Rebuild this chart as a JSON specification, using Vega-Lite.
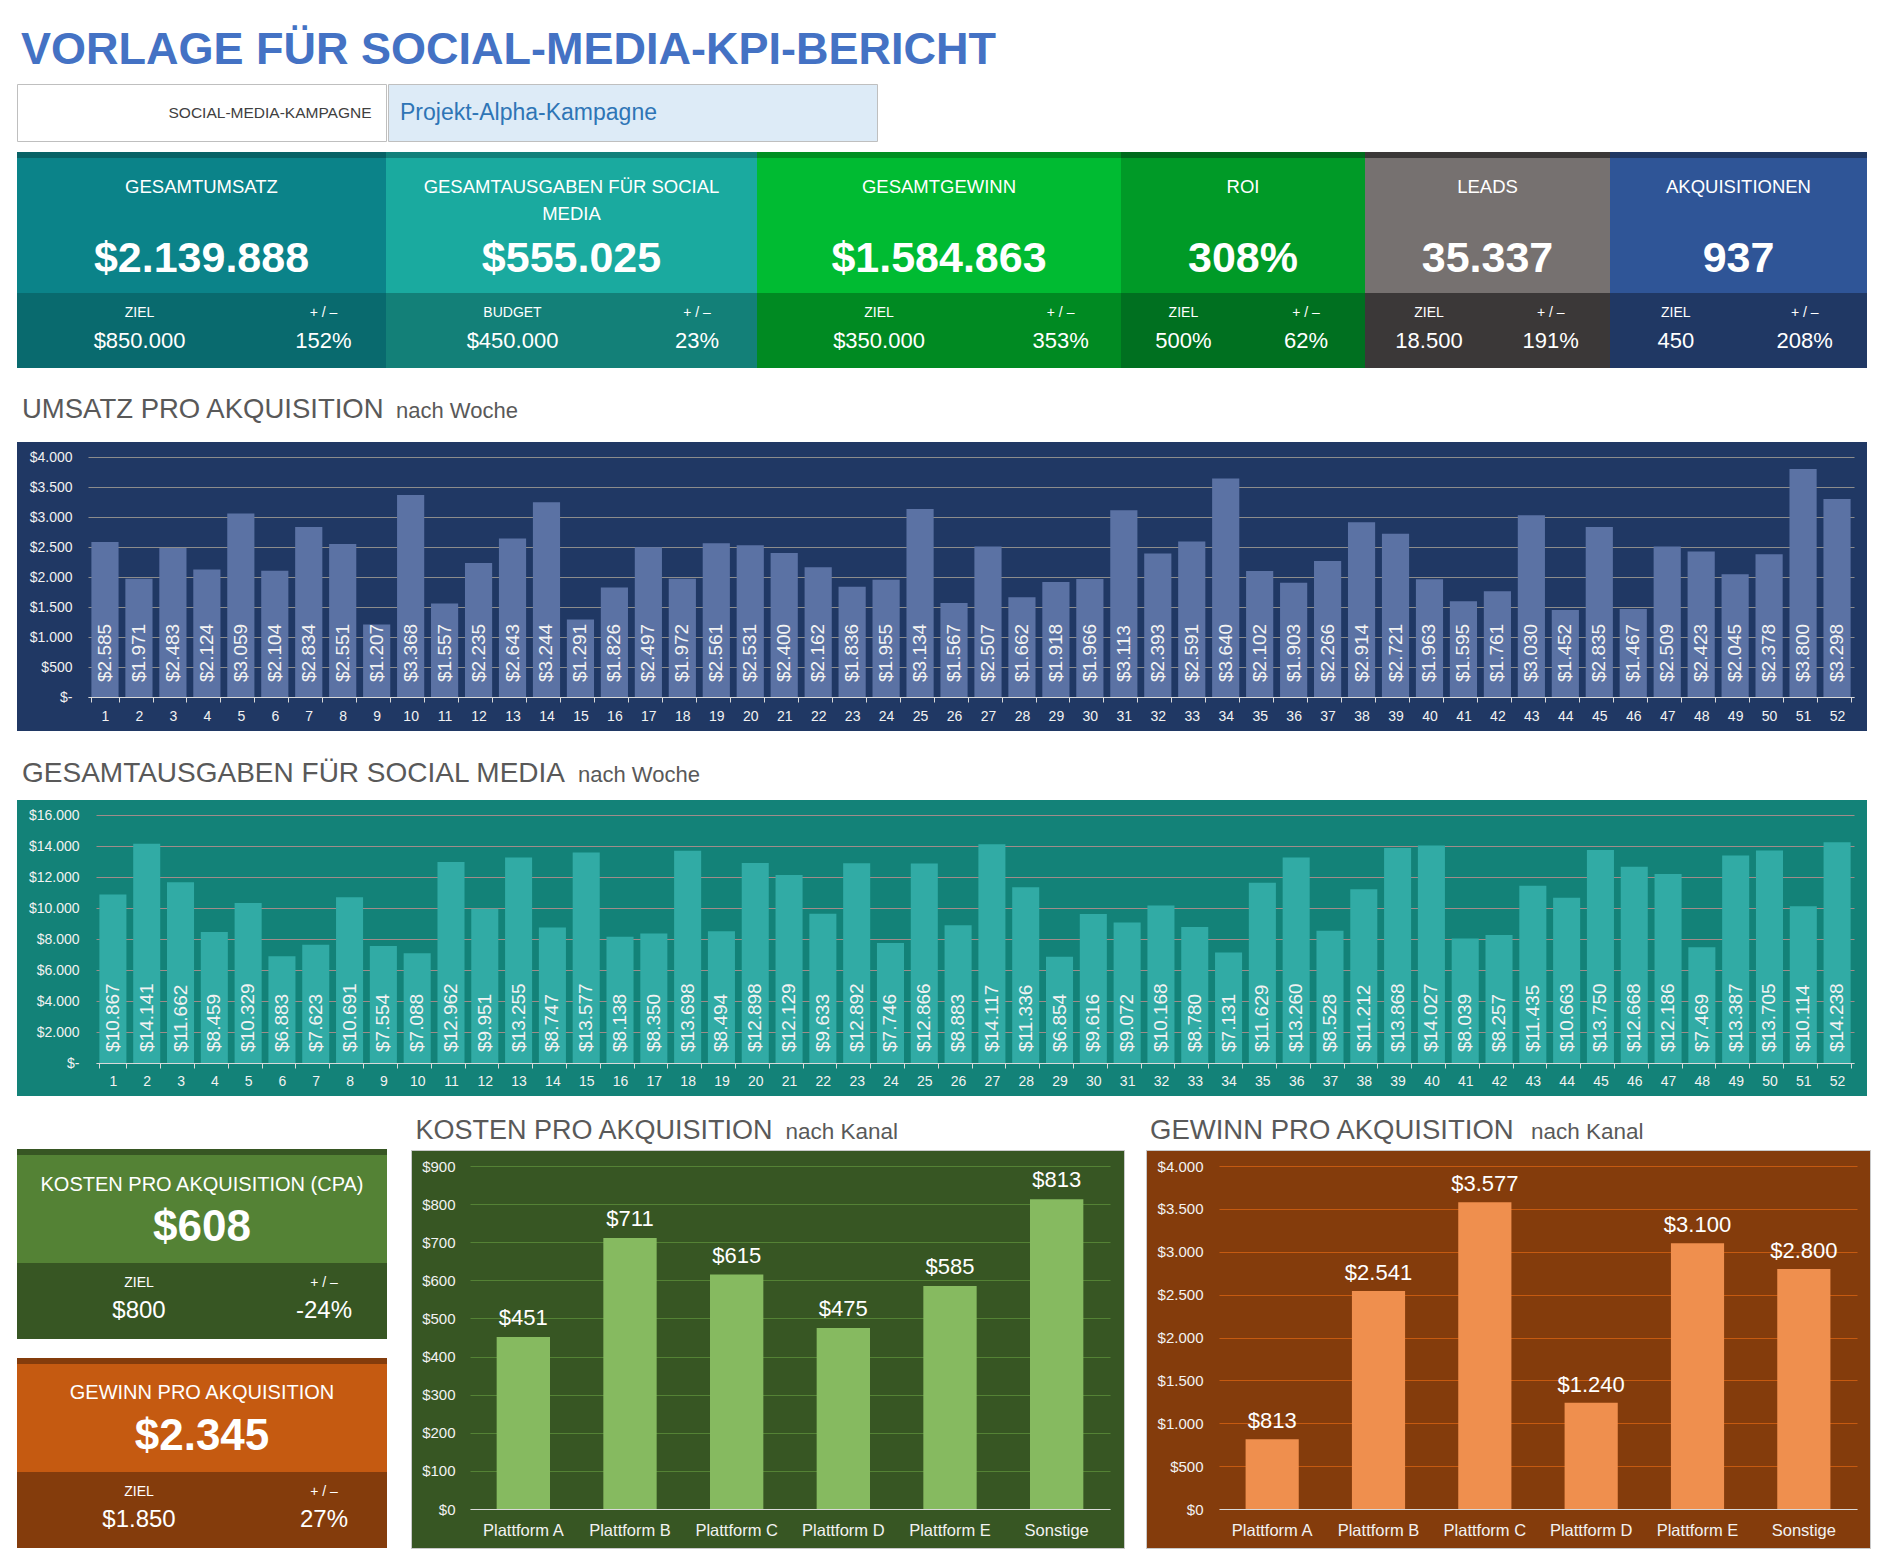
{
"$schema": "https://vega.github.io/schema/vega-lite/v6.json",
"background": "#FFFFFF",
"padding": {"left": 16, "top": 0, "right": 22, "bottom": 11},
"config": {
  "view": {"stroke": null},
  "font": "Liberation Sans",
  "text": {"color": "#FFFFFF"},
  "locale": {"number": {"decimal": ",", "thousands": ".", "grouping": [3], "currency": ["$", ""], "minus": "-"}}
},
"datasets": {
  "weekly": [
    {"woche":1,"umsatz":2585,"ausgaben":10867},{"woche":2,"umsatz":1971,"ausgaben":14141},{"woche":3,"umsatz":2483,"ausgaben":11662},{"woche":4,"umsatz":2124,"ausgaben":8459},
    {"woche":5,"umsatz":3059,"ausgaben":10329},{"woche":6,"umsatz":2104,"ausgaben":6883},{"woche":7,"umsatz":2834,"ausgaben":7623},{"woche":8,"umsatz":2551,"ausgaben":10691},
    {"woche":9,"umsatz":1207,"ausgaben":7554},{"woche":10,"umsatz":3368,"ausgaben":7088},{"woche":11,"umsatz":1557,"ausgaben":12962},{"woche":12,"umsatz":2235,"ausgaben":9951},
    {"woche":13,"umsatz":2643,"ausgaben":13255},{"woche":14,"umsatz":3244,"ausgaben":8747},{"woche":15,"umsatz":1291,"ausgaben":13577},{"woche":16,"umsatz":1826,"ausgaben":8138},
    {"woche":17,"umsatz":2497,"ausgaben":8350},{"woche":18,"umsatz":1972,"ausgaben":13698},{"woche":19,"umsatz":2561,"ausgaben":8494},{"woche":20,"umsatz":2531,"ausgaben":12898},
    {"woche":21,"umsatz":2400,"ausgaben":12129},{"woche":22,"umsatz":2162,"ausgaben":9633},{"woche":23,"umsatz":1836,"ausgaben":12892},{"woche":24,"umsatz":1955,"ausgaben":7746},
    {"woche":25,"umsatz":3134,"ausgaben":12866},{"woche":26,"umsatz":1567,"ausgaben":8883},{"woche":27,"umsatz":2507,"ausgaben":14117},{"woche":28,"umsatz":1662,"ausgaben":11336},
    {"woche":29,"umsatz":1918,"ausgaben":6854},{"woche":30,"umsatz":1966,"ausgaben":9616},{"woche":31,"umsatz":3113,"ausgaben":9072},{"woche":32,"umsatz":2393,"ausgaben":10168},
    {"woche":33,"umsatz":2591,"ausgaben":8780},{"woche":34,"umsatz":3640,"ausgaben":7131},{"woche":35,"umsatz":2102,"ausgaben":11629},{"woche":36,"umsatz":1903,"ausgaben":13260},
    {"woche":37,"umsatz":2266,"ausgaben":8528},{"woche":38,"umsatz":2914,"ausgaben":11212},{"woche":39,"umsatz":2721,"ausgaben":13868},{"woche":40,"umsatz":1963,"ausgaben":14027},
    {"woche":41,"umsatz":1595,"ausgaben":8039},{"woche":42,"umsatz":1761,"ausgaben":8257},{"woche":43,"umsatz":3030,"ausgaben":11435},{"woche":44,"umsatz":1452,"ausgaben":10663},
    {"woche":45,"umsatz":2835,"ausgaben":13750},{"woche":46,"umsatz":1467,"ausgaben":12668},{"woche":47,"umsatz":2509,"ausgaben":12186},{"woche":48,"umsatz":2423,"ausgaben":7469},
    {"woche":49,"umsatz":2045,"ausgaben":13387},{"woche":50,"umsatz":2378,"ausgaben":13705},{"woche":51,"umsatz":3800,"ausgaben":10114},{"woche":52,"umsatz":3298,"ausgaben":14238}
  ],
  "kanal": [
    {"kanal":"Plattform A","kosten":451,"gewinn":813},
    {"kanal":"Plattform B","kosten":711,"gewinn":2541},
    {"kanal":"Plattform C","kosten":615,"gewinn":3577},
    {"kanal":"Plattform D","kosten":475,"gewinn":1240},
    {"kanal":"Plattform E","kosten":585,"gewinn":3100},
    {"kanal":"Sonstige","kosten":813,"gewinn":2800}
  ],
  "leer": []
},
"spacing": 10,
"vconcat": [
  {
    "spacing": 0,
    "vconcat": [
      {"width": 1850, "height": 83,
       "data": {"values": [{"t": "VORLAGE FÜR SOCIAL-MEDIA-KPI-BERICHT"}]},
       "mark": {"type": "text", "align": "left", "baseline": "alphabetic", "dx": -921, "dy": 22.5, "fontSize": 45, "fontWeight": "bold", "color": "#4472C4"},
       "encoding": {"text": {"field": "t"}}},
      {"spacing": 0,
       "hconcat": [
         {"width": 369, "height": 57, "view": {"fill": "#FFFFFF", "stroke": "#BFBFBF"},
          "data": {"values": [{"t": "SOCIAL-MEDIA-KAMPAGNE"}]},
          "mark": {"type": "text", "align": "right", "baseline": "middle", "dx": 170, "fontSize": 15.5, "color": "#404040"},
          "encoding": {"text": {"field": "t"}}},
         {"width": 489, "height": 57, "view": {"fill": "#DDEBF7", "stroke": "#BFBFBF"},
          "data": {"values": [{"t": "Projekt-Alpha-Kampagne"}]},
          "mark": {"type": "text", "align": "left", "baseline": "middle", "dx": -232.5, "fontSize": 23, "color": "#2E75B6"},
          "encoding": {"text": {"field": "t"}}}
       ]}
    ]
  },
  {
    "spacing": 0,
    "hconcat": [
      {"spacing": 0, "vconcat": [
        {"width": 369, "height": 6, "view": {"fill": "#086266"}, "data": {"name": "leer"}, "mark": "text", "encoding": {"text": {"field": "t", "type": "nominal"}}},
        {"width": 369, "height": 135, "view": {"fill": "#0B8389"}, "data": {"values": [{"label": "GESAMTUMSATZ", "wert": 2139888}]}, "layer": [
          {"mark": {"type": "text", "baseline": "alphabetic", "dy": -32.8, "fontSize": 18.5, "lineBreak": "\n", "lineHeight": 27}, "encoding": {"text": {"field": "label"}}},
          {"mark": {"type": "text", "baseline": "alphabetic", "dy": 46.2, "fontSize": 43, "fontWeight": "bold"}, "encoding": {"text": {"field": "wert", "type": "quantitative", "format": "$,.0f"}}}]},
        {"width": 369, "height": 75, "view": {"fill": "#096A6E"}, "data": {"values": [{"h1": "ZIEL", "v1": 850000, "h2": "+ / –", "v2": 1.52}]}, "layer": [
          {"mark": {"type": "text", "baseline": "alphabetic", "dx": -62, "dy": -13.8, "fontSize": 14}, "encoding": {"text": {"field": "h1"}}},
          {"mark": {"type": "text", "baseline": "alphabetic", "dx": -62, "dy": 17.8, "fontSize": 22}, "encoding": {"text": {"field": "v1", "type": "quantitative", "format": "$,.0f"}}},
          {"mark": {"type": "text", "baseline": "alphabetic", "dx": 122, "dy": -13.8, "fontSize": 14}, "encoding": {"text": {"field": "h2"}}},
          {"mark": {"type": "text", "baseline": "alphabetic", "dx": 122, "dy": 17.8, "fontSize": 22}, "encoding": {"text": {"field": "v2", "type": "quantitative", "format": ".0%"}}}]}
      ]},
      {"spacing": 0, "vconcat": [
        {"width": 371, "height": 6, "view": {"fill": "#12807A"}, "data": {"name": "leer"}, "mark": "text", "encoding": {"text": {"field": "t", "type": "nominal"}}},
        {"width": 371, "height": 135, "view": {"fill": "#1AAA9F"}, "data": {"values": [{"label": "GESAMTAUSGABEN FÜR SOCIAL\nMEDIA", "wert": 555025}]}, "layer": [
          {"mark": {"type": "text", "baseline": "alphabetic", "dy": -32.8, "fontSize": 18.5, "lineBreak": "\n", "lineHeight": 27}, "encoding": {"text": {"field": "label"}}},
          {"mark": {"type": "text", "baseline": "alphabetic", "dy": 46.2, "fontSize": 43, "fontWeight": "bold"}, "encoding": {"text": {"field": "wert", "type": "quantitative", "format": "$,.0f"}}}]},
        {"width": 371, "height": 75, "view": {"fill": "#138078"}, "data": {"values": [{"h1": "BUDGET", "v1": 450000, "h2": "+ / –", "v2": 0.23}]}, "layer": [
          {"mark": {"type": "text", "baseline": "alphabetic", "dx": -59, "dy": -13.8, "fontSize": 14}, "encoding": {"text": {"field": "h1"}}},
          {"mark": {"type": "text", "baseline": "alphabetic", "dx": -59, "dy": 17.8, "fontSize": 22}, "encoding": {"text": {"field": "v1", "type": "quantitative", "format": "$,.0f"}}},
          {"mark": {"type": "text", "baseline": "alphabetic", "dx": 125.5, "dy": -13.8, "fontSize": 14}, "encoding": {"text": {"field": "h2"}}},
          {"mark": {"type": "text", "baseline": "alphabetic", "dx": 125.5, "dy": 17.8, "fontSize": 22}, "encoding": {"text": {"field": "v2", "type": "quantitative", "format": ".0%"}}}]}
      ]},
      {"spacing": 0, "vconcat": [
        {"width": 364, "height": 6, "view": {"fill": "#008F22"}, "data": {"name": "leer"}, "mark": "text", "encoding": {"text": {"field": "t", "type": "nominal"}}},
        {"width": 364, "height": 135, "view": {"fill": "#00BB32"}, "data": {"values": [{"label": "GESAMTGEWINN", "wert": 1584863}]}, "layer": [
          {"mark": {"type": "text", "baseline": "alphabetic", "dy": -32.8, "fontSize": 18.5, "lineBreak": "\n", "lineHeight": 27}, "encoding": {"text": {"field": "label"}}},
          {"mark": {"type": "text", "baseline": "alphabetic", "dy": 46.2, "fontSize": 43, "fontWeight": "bold"}, "encoding": {"text": {"field": "wert", "type": "quantitative", "format": "$,.0f"}}}]},
        {"width": 364, "height": 75, "view": {"fill": "#008A22"}, "data": {"values": [{"h1": "ZIEL", "v1": 350000, "h2": "+ / –", "v2": 3.53}]}, "layer": [
          {"mark": {"type": "text", "baseline": "alphabetic", "dx": -60, "dy": -13.8, "fontSize": 14}, "encoding": {"text": {"field": "h1"}}},
          {"mark": {"type": "text", "baseline": "alphabetic", "dx": -60, "dy": 17.8, "fontSize": 22}, "encoding": {"text": {"field": "v1", "type": "quantitative", "format": "$,.0f"}}},
          {"mark": {"type": "text", "baseline": "alphabetic", "dx": 121.6, "dy": -13.8, "fontSize": 14}, "encoding": {"text": {"field": "h2"}}},
          {"mark": {"type": "text", "baseline": "alphabetic", "dx": 121.6, "dy": 17.8, "fontSize": 22}, "encoding": {"text": {"field": "v2", "type": "quantitative", "format": ".0%"}}}]}
      ]},
      {"spacing": 0, "vconcat": [
        {"width": 244, "height": 6, "view": {"fill": "#006A1C"}, "data": {"name": "leer"}, "mark": "text", "encoding": {"text": {"field": "t", "type": "nominal"}}},
        {"width": 244, "height": 135, "view": {"fill": "#009A27"}, "data": {"values": [{"label": "ROI", "wert": 3.08}]}, "layer": [
          {"mark": {"type": "text", "baseline": "alphabetic", "dy": -32.8, "fontSize": 18.5, "lineBreak": "\n", "lineHeight": 27}, "encoding": {"text": {"field": "label"}}},
          {"mark": {"type": "text", "baseline": "alphabetic", "dy": 46.2, "fontSize": 43, "fontWeight": "bold"}, "encoding": {"text": {"field": "wert", "type": "quantitative", "format": ".0%"}}}]},
        {"width": 244, "height": 75, "view": {"fill": "#007020"}, "data": {"values": [{"h1": "ZIEL", "v1": 5.0, "h2": "+ / –", "v2": 0.62}]}, "layer": [
          {"mark": {"type": "text", "baseline": "alphabetic", "dx": -59.6, "dy": -13.8, "fontSize": 14}, "encoding": {"text": {"field": "h1"}}},
          {"mark": {"type": "text", "baseline": "alphabetic", "dx": -59.6, "dy": 17.8, "fontSize": 22}, "encoding": {"text": {"field": "v1", "type": "quantitative", "format": ".0%"}}},
          {"mark": {"type": "text", "baseline": "alphabetic", "dx": 63, "dy": -13.8, "fontSize": 14}, "encoding": {"text": {"field": "h2"}}},
          {"mark": {"type": "text", "baseline": "alphabetic", "dx": 63, "dy": 17.8, "fontSize": 22}, "encoding": {"text": {"field": "v2", "type": "quantitative", "format": ".0%"}}}]}
      ]},
      {"spacing": 0, "vconcat": [
        {"width": 245, "height": 6, "view": {"fill": "#3B3838"}, "data": {"name": "leer"}, "mark": "text", "encoding": {"text": {"field": "t", "type": "nominal"}}},
        {"width": 245, "height": 135, "view": {"fill": "#767170"}, "data": {"values": [{"label": "LEADS", "wert": 35337}]}, "layer": [
          {"mark": {"type": "text", "baseline": "alphabetic", "dy": -32.8, "fontSize": 18.5, "lineBreak": "\n", "lineHeight": 27}, "encoding": {"text": {"field": "label"}}},
          {"mark": {"type": "text", "baseline": "alphabetic", "dy": 46.2, "fontSize": 43, "fontWeight": "bold"}, "encoding": {"text": {"field": "wert", "type": "quantitative", "format": ",.0f"}}}]},
        {"width": 245, "height": 75, "view": {"fill": "#3B3838"}, "data": {"values": [{"h1": "ZIEL", "v1": 18500, "h2": "+ / –", "v2": 1.91}]}, "layer": [
          {"mark": {"type": "text", "baseline": "alphabetic", "dx": -58.5, "dy": -13.8, "fontSize": 14}, "encoding": {"text": {"field": "h1"}}},
          {"mark": {"type": "text", "baseline": "alphabetic", "dx": -58.5, "dy": 17.8, "fontSize": 22}, "encoding": {"text": {"field": "v1", "type": "quantitative", "format": ",.0f"}}},
          {"mark": {"type": "text", "baseline": "alphabetic", "dx": 63.2, "dy": -13.8, "fontSize": 14}, "encoding": {"text": {"field": "h2"}}},
          {"mark": {"type": "text", "baseline": "alphabetic", "dx": 63.2, "dy": 17.8, "fontSize": 22}, "encoding": {"text": {"field": "v2", "type": "quantitative", "format": ".0%"}}}]}
      ]},
      {"spacing": 0, "vconcat": [
        {"width": 257, "height": 6, "view": {"fill": "#203864"}, "data": {"name": "leer"}, "mark": "text", "encoding": {"text": {"field": "t", "type": "nominal"}}},
        {"width": 257, "height": 135, "view": {"fill": "#2F5597"}, "data": {"values": [{"label": "AKQUISITIONEN", "wert": 937}]}, "layer": [
          {"mark": {"type": "text", "baseline": "alphabetic", "dy": -32.8, "fontSize": 18.5, "lineBreak": "\n", "lineHeight": 27}, "encoding": {"text": {"field": "label"}}},
          {"mark": {"type": "text", "baseline": "alphabetic", "dy": 46.2, "fontSize": 43, "fontWeight": "bold"}, "encoding": {"text": {"field": "wert", "type": "quantitative", "format": ",.0f"}}}]},
        {"width": 257, "height": 75, "view": {"fill": "#203864"}, "data": {"values": [{"h1": "ZIEL", "v1": 450, "h2": "+ / –", "v2": 2.08}]}, "layer": [
          {"mark": {"type": "text", "baseline": "alphabetic", "dx": -62.7, "dy": -13.8, "fontSize": 14}, "encoding": {"text": {"field": "h1"}}},
          {"mark": {"type": "text", "baseline": "alphabetic", "dx": -62.7, "dy": 17.8, "fontSize": 22}, "encoding": {"text": {"field": "v1", "type": "quantitative", "format": ",.0f"}}},
          {"mark": {"type": "text", "baseline": "alphabetic", "dx": 66.2, "dy": -13.8, "fontSize": 14}, "encoding": {"text": {"field": "h2"}}},
          {"mark": {"type": "text", "baseline": "alphabetic", "dx": 66.2, "dy": 17.8, "fontSize": 22}, "encoding": {"text": {"field": "v2", "type": "quantitative", "format": ".0%"}}}]}
      ]}
    ]
  },
  {
    "spacing": 0,
    "vconcat": [
      {"width": 1850, "height": 64, "data": {"values": [{"a": "UMSATZ PRO AKQUISITION", "b": "nach Woche"}]}, "layer": [
        {"mark": {"type": "text", "align": "left", "baseline": "alphabetic", "dx": -920, "dy": 8, "fontSize": 27.5, "color": "#595959"}, "encoding": {"text": {"field": "a"}}},
        {"mark": {"type": "text", "align": "left", "baseline": "alphabetic", "dx": -546, "dy": 8, "fontSize": 22, "color": "#595959"}, "encoding": {"text": {"field": "b"}}}]},
      {"width": 1850, "height": 289, "view": {"fill": "#203864"},
       "data": {"name": "weekly"},
       "encoding": {
         "x": {"field": "woche", "type": "ordinal", "scale": {"range": [71, 1837], "paddingInner": 0.2, "paddingOuter": 0.1},
               "axis": {"title": null, "orient": "bottom", "offset": -34, "labelAngle": 0, "domainColor": "#D9D9D9", "tickColor": "#D9D9D9", "tickSize": 5, "tickBand": "extent", "labelColor": "#F2F2F2", "labelFontSize": 14, "labelPadding": 7, "labelOverlap": false, "grid": false}}
       },
       "layer": [
         {"mark": {"type": "bar", "color": "#5B72A4"},
          "encoding": {"y": {"field": "umsatz", "type": "quantitative", "scale": {"domain": [0, 4000], "range": [255, 15], "nice": false},
               "axis": {"title": null, "offset": -71, "domain": false, "ticks": false, "tickSize": 0, "labelPadding": 16, "values": [0,500,1000,1500,2000,2500,3000,3500,4000], "labelOverlap": false, "format": "$,.0f", "labelExpr": "datum.value === 0 ? '$-' : datum.label", "labelColor": "#F2F2F2", "labelFontSize": 14, "grid": true, "gridColor": "#8C8C8C", "gridWidth": 1}}}},
         {"mark": {"type": "text", "angle": 270, "align": "left", "baseline": "middle", "dx": 15, "fontSize": 19, "color": "#F2F2F2"},
          "encoding": {"y": {"datum": 0, "type": "quantitative",
               "axis": {"title": null, "offset": -71, "domain": false, "ticks": false, "tickSize": 0, "labelPadding": 16, "values": [0,500,1000,1500,2000,2500,3000,3500,4000], "labelOverlap": false, "format": "$,.0f", "labelExpr": "datum.value === 0 ? '$-' : datum.label", "labelColor": "#F2F2F2", "labelFontSize": 14, "grid": true, "gridColor": "#8C8C8C", "gridWidth": 1}},
            "text": {"field": "umsatz", "type": "quantitative", "format": "$,.0f"}}}
       ]}
    ]
  },
  {
    "spacing": 0,
    "vconcat": [
      {"width": 1850, "height": 59, "data": {"values": [{"a": "GESAMTAUSGABEN FÜR SOCIAL MEDIA", "b": "nach Woche"}]}, "layer": [
        {"mark": {"type": "text", "align": "left", "baseline": "alphabetic", "dx": -920, "dy": 11.5, "fontSize": 28, "color": "#595959"}, "encoding": {"text": {"field": "a"}}},
        {"mark": {"type": "text", "align": "left", "baseline": "alphabetic", "dx": -364, "dy": 11.5, "fontSize": 22, "color": "#595959"}, "encoding": {"text": {"field": "b"}}}]},
      {"width": 1850, "height": 296, "view": {"fill": "#138278"},
       "data": {"name": "weekly"},
       "encoding": {
         "x": {"field": "woche", "type": "ordinal", "scale": {"range": [79, 1837], "paddingInner": 0.2, "paddingOuter": 0.1},
               "axis": {"title": null, "orient": "bottom", "offset": -33, "labelAngle": 0, "domainColor": "#D9D9D9", "tickColor": "#D9D9D9", "tickSize": 5, "tickBand": "extent", "labelColor": "#F2F2F2", "labelFontSize": 14, "labelPadding": 6, "labelOverlap": false, "grid": false}}
       },
       "layer": [
         {"mark": {"type": "bar", "color": "#31ABA5"},
          "encoding": {"y": {"field": "ausgaben", "type": "quantitative", "scale": {"domain": [0, 16000], "range": [263, 15], "nice": false},
               "axis": {"title": null, "offset": -79, "domain": false, "ticks": false, "tickSize": 0, "labelPadding": 17, "values": [0,2000,4000,6000,8000,10000,12000,14000,16000], "labelOverlap": false, "format": "$,.0f", "labelExpr": "datum.value === 0 ? '$-' : datum.label", "labelColor": "#F2F2F2", "labelFontSize": 14, "grid": true, "gridColor": "#A08C8A", "gridWidth": 1}}}},
         {"mark": {"type": "text", "angle": 270, "align": "left", "baseline": "middle", "dx": 11, "fontSize": 19, "color": "#F2F2F2"},
          "encoding": {"y": {"datum": 0, "type": "quantitative",
               "axis": {"title": null, "offset": -79, "domain": false, "ticks": false, "tickSize": 0, "labelPadding": 17, "values": [0,2000,4000,6000,8000,10000,12000,14000,16000], "labelOverlap": false, "format": "$,.0f", "labelExpr": "datum.value === 0 ? '$-' : datum.label", "labelColor": "#F2F2F2", "labelFontSize": 14, "grid": true, "gridColor": "#A08C8A", "gridWidth": 1}},
            "text": {"field": "ausgaben", "type": "quantitative", "format": "$,.0f"}}}
       ]}
    ]
  },
  {
    "spacing": 23,
    "hconcat": [
      {"spacing": 0, "vconcat": [
        {"width": 370, "height": 43, "data": {"name": "leer"}, "mark": "text", "encoding": {"text": {"field": "t", "type": "nominal"}}},
        {"width": 370, "height": 6, "view": {"fill": "#375623"}, "data": {"name": "leer"}, "mark": "text", "encoding": {"text": {"field": "t", "type": "nominal"}}},
        {"width": 370, "height": 108, "view": {"fill": "#548235"}, "data": {"values": [{"label": "KOSTEN PRO AKQUISITION (CPA)", "wert": 608}]}, "layer": [
          {"mark": {"type": "text", "baseline": "alphabetic", "dy": -18, "fontSize": 20}, "encoding": {"text": {"field": "label"}}},
          {"mark": {"type": "text", "baseline": "alphabetic", "dy": 32, "fontSize": 44, "fontWeight": "bold"}, "encoding": {"text": {"field": "wert", "type": "quantitative", "format": "$,.0f"}}}]},
        {"width": 370, "height": 76, "view": {"fill": "#375623"}, "data": {"values": [{"h1": "ZIEL", "v1": 800, "h2": "+ / –", "v2": -0.24}]}, "layer": [
          {"mark": {"type": "text", "baseline": "alphabetic", "dx": -63, "dy": -14, "fontSize": 14}, "encoding": {"text": {"field": "h1"}}},
          {"mark": {"type": "text", "baseline": "alphabetic", "dx": -63, "dy": 17, "fontSize": 24}, "encoding": {"text": {"field": "v1", "type": "quantitative", "format": "$,.0f"}}},
          {"mark": {"type": "text", "baseline": "alphabetic", "dx": 122, "dy": -14, "fontSize": 14}, "encoding": {"text": {"field": "h2"}}},
          {"mark": {"type": "text", "baseline": "alphabetic", "dx": 122, "dy": 17, "fontSize": 24}, "encoding": {"text": {"field": "v2", "type": "quantitative", "format": ".0%"}}}]},
        {"width": 370, "height": 19, "data": {"name": "leer"}, "mark": "text", "encoding": {"text": {"field": "t", "type": "nominal"}}},
        {"width": 370, "height": 6, "view": {"fill": "#843C0C"}, "data": {"name": "leer"}, "mark": "text", "encoding": {"text": {"field": "t", "type": "nominal"}}},
        {"width": 370, "height": 108, "view": {"fill": "#C55A11"}, "data": {"values": [{"label": "GEWINN PRO AKQUISITION", "wert": 2345}]}, "layer": [
          {"mark": {"type": "text", "baseline": "alphabetic", "dy": -19, "fontSize": 20}, "encoding": {"text": {"field": "label"}}},
          {"mark": {"type": "text", "baseline": "alphabetic", "dy": 32, "fontSize": 44, "fontWeight": "bold"}, "encoding": {"text": {"field": "wert", "type": "quantitative", "format": "$,.0f"}}}]},
        {"width": 370, "height": 76, "view": {"fill": "#843C0C"}, "data": {"values": [{"h1": "ZIEL", "v1": 1850, "h2": "+ / –", "v2": 0.27}]}, "layer": [
          {"mark": {"type": "text", "baseline": "alphabetic", "dx": -63, "dy": -14, "fontSize": 14}, "encoding": {"text": {"field": "h1"}}},
          {"mark": {"type": "text", "baseline": "alphabetic", "dx": -63, "dy": 17, "fontSize": 24}, "encoding": {"text": {"field": "v1", "type": "quantitative", "format": "$,.0f"}}},
          {"mark": {"type": "text", "baseline": "alphabetic", "dx": 122, "dy": -14, "fontSize": 14}, "encoding": {"text": {"field": "h2"}}},
          {"mark": {"type": "text", "baseline": "alphabetic", "dx": 122, "dy": 17, "fontSize": 24}, "encoding": {"text": {"field": "v2", "type": "quantitative", "format": ".0%"}}}]}
      ]},
      {"spacing": 20, "hconcat": [
        {"spacing": 0, "vconcat": [
          {"width": 713, "height": 43, "data": {"values": [{"a": "KOSTEN PRO AKQUISITION", "b": "nach Kanal"}]}, "layer": [
            {"mark": {"type": "text", "align": "left", "baseline": "alphabetic", "dx": -352, "dy": 11.5, "fontSize": 27, "color": "#595959"}, "encoding": {"text": {"field": "a"}}},
            {"mark": {"type": "text", "align": "left", "baseline": "alphabetic", "dx": 18, "dy": 11.5, "fontSize": 22.5, "color": "#595959"}, "encoding": {"text": {"field": "b"}}}]},
          {"width": 713, "height": 398, "view": {"fill": "#375623", "stroke": "#C9C9C9", "strokeWidth": 1},
           "data": {"name": "kanal"},
           "encoding": {
             "x": {"field": "kanal", "type": "nominal", "sort": null, "scale": {"range": [59, 699], "paddingInner": 0.5, "paddingOuter": 0.25},
                   "axis": {"title": null, "orient": "bottom", "offset": -39, "labelAngle": 0, "domainColor": "#D9D9D9", "ticks": false, "labelColor": "#F2F2F2", "labelFontSize": 16.5, "labelPadding": 13, "grid": false}},
             "y": {"field": "kosten", "type": "quantitative", "scale": {"domain": [0, 900], "range": [359, 16], "nice": false},
                   "axis": {"title": null, "offset": -59, "domain": false, "ticks": false, "tickSize": 0, "labelPadding": 15, "values": [0,100,200,300,400,500,600,700,800,900], "labelOverlap": false, "format": "$,.0f", "labelColor": "#F2F2F2", "labelFontSize": 15, "grid": true, "gridColor": "#548235"}}
           },
           "layer": [
             {"mark": {"type": "bar", "color": "#86BA60"}},
             {"mark": {"type": "text", "baseline": "alphabetic", "dy": -12, "fontSize": 22, "color": "#FFFFFF"}, "encoding": {"text": {"field": "kosten", "type": "quantitative", "format": "$,.0f"}}}
           ]}
        ]},
        {"spacing": 0, "vconcat": [
          {"width": 724, "height": 43, "data": {"values": [{"a": "GEWINN PRO AKQUISITION", "b": "nach Kanal"}]}, "layer": [
            {"mark": {"type": "text", "align": "left", "baseline": "alphabetic", "dx": -358, "dy": 11.5, "fontSize": 27.5, "color": "#595959"}, "encoding": {"text": {"field": "a"}}},
            {"mark": {"type": "text", "align": "left", "baseline": "alphabetic", "dx": 23, "dy": 11.5, "fontSize": 22.5, "color": "#595959"}, "encoding": {"text": {"field": "b"}}}]},
          {"width": 724, "height": 398, "view": {"fill": "#843C0C", "stroke": "#C9C9C9", "strokeWidth": 1},
           "data": {"name": "kanal"},
           "encoding": {
             "x": {"field": "kanal", "type": "nominal", "sort": null, "scale": {"range": [73, 711], "paddingInner": 0.5, "paddingOuter": 0.25},
                   "axis": {"title": null, "orient": "bottom", "offset": -39, "labelAngle": 0, "domainColor": "#D9D9D9", "ticks": false, "labelColor": "#F2F2F2", "labelFontSize": 16.5, "labelPadding": 13, "grid": false}},
             "y": {"field": "gewinn", "type": "quantitative", "scale": {"domain": [0, 4000], "range": [359, 16], "nice": false},
                   "axis": {"title": null, "offset": -73, "domain": false, "ticks": false, "tickSize": 0, "labelPadding": 16, "values": [0,500,1000,1500,2000,2500,3000,3500,4000], "labelOverlap": false, "format": "$,.0f", "labelColor": "#F2F2F2", "labelFontSize": 15, "grid": true, "gridColor": "#C55A11"}}
           },
           "layer": [
             {"mark": {"type": "bar", "color": "#EF8F4E"}},
             {"mark": {"type": "text", "baseline": "alphabetic", "dy": -11, "fontSize": 22, "color": "#FFFFFF"}, "encoding": {"text": {"field": "gewinn", "type": "quantitative", "format": "$,.0f"}}}
           ]}
        ]}
      ]}
    ]
  }
]
}
